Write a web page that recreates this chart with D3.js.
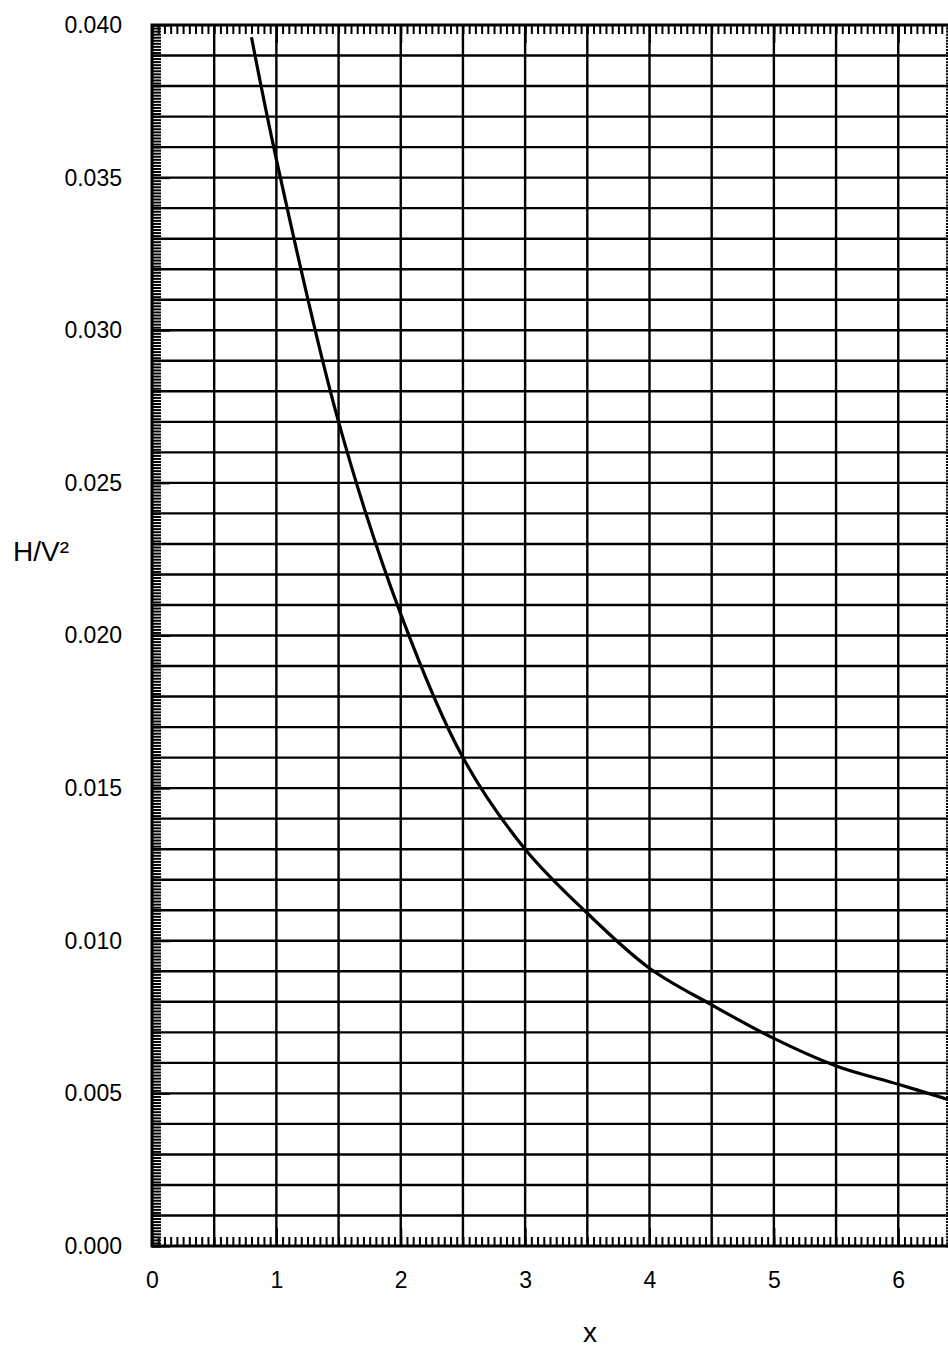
<!DOCTYPE html>
<html>
<head>
<meta charset="utf-8">
<script src="https://cdn.jsdelivr.net/npm/d3@7"></script>
<style>
  html, body { margin: 0; padding: 0; background: #fff; }
  svg { display: block; }
  text { font-family: "Liberation Sans", Arial, sans-serif; fill: #000; }
</style>
</head>
<body>
<svg id="chart" width="948" height="1347"></svg>
<script>
// curve values
const xValues = [0.8, 1.0, 1.5, 2.0, 2.5, 3.0, 3.5, 4.0, 4.5, 5.0, 5.5, 6.0, 6.4];
const hv2Values = [0.0396, 0.0356, 0.0270, 0.0207, 0.0160, 0.0130, 0.0109, 0.0091, 0.0079, 0.0068, 0.0059, 0.0053, 0.0048];

// ticks and grid
const xTickLabels = [0, 1, 2, 3, 4, 5, 6];
const yTickLabels = [0, 0.005, 0.010, 0.015, 0.020, 0.025, 0.030, 0.035, 0.040];
const xGrid = [0.5, 1, 1.5, 2, 2.5, 3, 3.5, 4, 4.5, 5, 5.5, 6];
const yGrid = d3.range(1, 40).map(i => i / 1000);
const xMinor = d3.range(0, 129).map(i => i / 20);
const yMinor = d3.range(0, 401).map(i => i / 10000);

const svg = d3.select('#chart');
const plotL = 152, plotR = 948, plotT = 25, plotB = 1246;

const x = d3.scaleLinear().domain([0, 6.4]).range([plotL, plotR]);
const y = d3.scaleLinear().domain([0, 0.04]).range([plotB, plotT]);

svg.append('defs').append('clipPath').attr('id', 'plot')
  .append('rect').attr('x', plotL).attr('y', plotT)
  .attr('width', plotR - plotL).attr('height', plotB - plotT);

// grid lines
const grid = svg.append('g').attr('stroke', '#000').attr('stroke-width', 2.4);
grid.selectAll('.gx').data(xGrid).join('line')
  .attr('x1', d => x(d)).attr('x2', d => x(d))
  .attr('y1', plotT).attr('y2', plotB);
grid.selectAll('.gy').data(yGrid).join('line')
  .attr('x1', plotL).attr('x2', plotR)
  .attr('y1', d => y(d)).attr('y2', d => y(d));

// minor ticks (inward) on bottom, top and left
const tickStyle = g => {
  g.select('.domain').remove();
  g.selectAll('line').attr('stroke', '#000').attr('stroke-width', 2);
};
svg.append('g').attr('transform', `translate(0,${plotB})`)
  .call(d3.axisBottom(x).tickValues(xMinor).tickSize(-9).tickFormat(''))
  .call(tickStyle);
svg.append('g').attr('transform', `translate(0,${plotB})`)
  .call(d3.axisBottom(x).tickValues(xTickLabels).tickSize(-18).tickFormat(''))
  .call(tickStyle);
svg.append('g').attr('transform', `translate(0,${plotT})`)
  .call(d3.axisTop(x).tickValues(xMinor).tickSize(-9).tickFormat(''))
  .call(tickStyle);
svg.append('g').attr('transform', `translate(0,${plotT})`)
  .call(d3.axisTop(x).tickValues(xTickLabels).tickSize(-18).tickFormat(''))
  .call(tickStyle);
svg.append('g').attr('transform', `translate(${plotL},0)`)
  .call(d3.axisLeft(y).tickValues(yMinor).tickSize(-9).tickFormat(''))
  .call(tickStyle);
svg.append('g').attr('transform', `translate(${plotL},0)`)
  .call(d3.axisLeft(y).tickValues(yTickLabels).tickSize(-18).tickFormat(''))
  .call(tickStyle);
// right axis is cut off by the picture edge, only the tick tips show
svg.append('g').attr('transform', `translate(${plotR + 7},0)`)
  .call(d3.axisRight(y).tickValues(yMinor).tickSize(-9).tickFormat(''))
  .call(tickStyle);

// frame
svg.append('path')
  .attr('d', `M${plotR},${plotT}H${plotL}V${plotB}H${plotR}`)
  .attr('fill', 'none').attr('stroke', '#000').attr('stroke-width', 3);

// tick labels
const labelStyle = g => {
  g.select('.domain').remove();
  g.selectAll('text').style('font-size', '23px');
};
svg.append('g').attr('transform', `translate(0,${plotB})`)
  .call(d3.axisBottom(x).tickValues(xTickLabels).tickSize(0).tickPadding(26).tickFormat(d3.format('d')))
  .call(labelStyle);
svg.append('g').attr('transform', `translate(${plotL},0)`)
  .call(d3.axisLeft(y).tickValues(yTickLabels).tickSize(0).tickPadding(30).tickFormat(d3.format('.3f')))
  .call(labelStyle);

// axis titles
svg.append('text').attr('x', 13).attr('y', 561)
  .style('font-size', '28px').text('H/V²');
svg.append('text').attr('x', 590).attr('y', 1342)
  .attr('text-anchor', 'middle').style('font-size', '28px').text('x');

// the curve
const pts = xValues.map((v, i) => [v, hv2Values[i]]);
svg.append('path')
  .datum(pts)
  .attr('clip-path', 'url(#plot)')
  .attr('fill', 'none')
  .attr('stroke', '#000')
  .attr('stroke-width', 3.2)
  .attr('d', d3.line().x(d => x(d[0])).y(d => y(d[1])).curve(d3.curveCatmullRom.alpha(0.5)));
</script>
</body>
</html>
